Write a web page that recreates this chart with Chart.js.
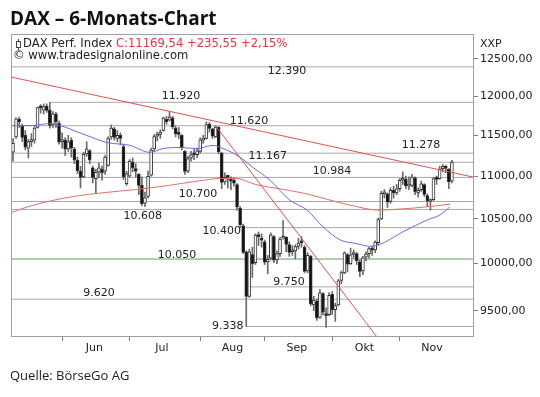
<!DOCTYPE html>
<html lang="de">
<head>
<meta charset="utf-8">
<title>DAX – 6-Monats-Chart</title>
<script src="https://cdn.jsdelivr.net/npm/chart.js@4.4.1/dist/chart.umd.min.js"></script>
<style>
  html, body { margin: 0; padding: 0; background: #fff; }
  #wrap { position: relative; width: 540px; height: 397px; overflow: hidden; }
  #wrap canvas { position: absolute; left: 0; top: 0; }
  .t { position: absolute; white-space: nowrap; }
  #title { left: 10px; top: 8px; font: bold 19px/20px "Open Sans", sans-serif; color: #111; }
  #source { left: 10px; top: 369px; font: 13px/13px "Open Sans", sans-serif; color: #222; }
  .hdr { font: 11.6px/13px "DejaVu Sans", sans-serif; color: #222; }
  #h1 { left: 15px; top: 37px; }
  #h2 { left: 13px; top: 48.5px; }
  #xxp { left: 480px; top: 37px; font-size: 11px; }
  .red { color: #e8333b; }
  .ico { display: inline-block; position: relative; width: 3px; height: 5px; border: 1px solid #444;
         margin: 0 2px 0 1px; vertical-align: -1px; }
  .ico::before, .ico::after { content: ""; position: absolute; left: 1px; width: 1px; height: 2px; background: #444; }
  .ico::before { top: -3px; }
  .ico::after { bottom: -3px; }
</style>
</head>
<body>
<div id="wrap">
  <canvas id="chart" width="540" height="397"></canvas>
  <div class="t" id="title">DAX – 6-Monats-Chart</div>
  <div class="t hdr" id="h1"><span class="ico"></span>DAX Perf. Index <span class="red">C:11169,54 +235,55 +2,15%</span></div>
  <div class="t hdr" id="h2">© www.tradesignalonline.com</div>
  <div class="t hdr" id="xxp">XXP</div>
  <div class="t" id="source">Quelle: BörseGo AG</div>
</div>
<script>
/* ---------------------------------------------------------------------------
 * DAX Tageskerzen 7. Mai – 25. Nov. 2015 (Index 0 = erster Balken),
 * 200-/50-Tage-Linie, Trendlinien und markierte Marken.
 * ------------------------------------------------------------------------- */
const $ = (id) => document.getElementById(id);

// Kerzen: Mai | Jun | Jul | Aug | Sep | Okt | Nov
const barOpen = [
  11290, 11480, 11700, 11620, 11500, 11340, 11420, 11440, 11600, 11860, 11820, 11870, 11820, 11630, 11770, 11650,
  11420, 11440, 11330, 11440, 11330, 11190, 11060, 10990, 11270, 11310, 11100, 10970, 11050, 11080, 11060, 11130, 11480, 11580, 11460, 11500, 11360, 10910,
  11000, 11170, 11090, 11020, 10890, 10680, 10760, 11010, 11330, 11490, 11510, 11560, 11700, 11690, 11720, 11590, 11530, 11500, 11300, 11060, 11220, 11280, 11260,
  11300, 11440, 11460, 11640, 11580, 11480, 11600, 11280, 10930, 11000, 10960, 10950, 10900, 10620, 10420, 10130, 9650, 10100, 10010, 10310, 10280,
  10240, 10020, 10060, 10300, 10040, 10110, 10280, 10290, 10210, 10130, 10140, 10190, 10240, 10180, 9920, 10080, 9560, 9600, 9430, 9680, 9470, 9460,
  9670, 9510, 9560, 9820, 9900, 10100, 10000, 10100, 10110, 10020, 9920, 10070, 10110, 10170, 10150, 10230, 10500, 10790, 10790, 10700, 10830, 10800,
  10850, 10950, 10960, 10880, 10890, 10980, 10800, 10840, 10900, 10770, 10700, 10720, 10970, 10970, 11090, 11110, 11080, 10940,
];
const barHigh = [
  11460, 11720, 11730, 11640, 11560, 11450, 11520, 11610, 11860, 11890, 11900, 11900, 11920, 11800, 11790, 11680,
  11530, 11470, 11500, 11470, 11350, 11230, 11120, 11290, 11420, 11320, 11120, 11080, 11160, 11120, 11250, 11480, 11630, 11600, 11560, 11530, 11390, 11060,
  11200, 11220, 11150, 11030, 10990, 10810, 11060, 11340, 11510, 11540, 11570, 11730, 11740, 11802, 11740, 11620, 11600, 11510, 11310, 11240, 11300, 11330, 11340,
  11470, 11500, 11670, 11660, 11590, 11620, 11610, 11290, 11040, 11010, 10990, 10980, 10910, 10640, 10440, 10140, 10160, 10180, 10330, 10350, 10330,
  10260, 10090, 10340, 10310, 10140, 10290, 10480, 10300, 10240, 10200, 10210, 10280, 10300, 10200, 10120, 10090, 9650, 9620, 9720, 9690, 9530, 9690,
  9700, 9580, 9830, 9920, 10130, 10110, 10170, 10150, 10120, 10040, 10080, 10130, 10180, 10190, 10250, 10510, 10820, 10840, 10800, 10860, 10880, 10900,
  10970, 11050, 11000, 10990, 11020, 10990, 10860, 10940, 10910, 10790, 10730, 10980, 11000, 11120, 11140, 11130, 11090, 11190,
];
const barLow = [
  11180, 11460, 11600, 11420, 11320, 11220, 11360, 11400, 11590, 11780, 11770, 11790, 11590, 11600, 11600, 11390,
  11340, 11250, 11300, 11230, 11150, 11030, 10860, 10980, 11240, 11150, 10920, 10800, 10980, 10950, 11020, 11120, 11450, 11440, 11420, 11380, 10960, 10890,
  10990, 11050, 10990, 10780, 10650, 10640, 10740, 11000, 11300, 11430, 11460, 11550, 11640, 11680, 11580, 11480, 11460, 11320, 11020, 11040, 11180, 11200, 11220,
  11280, 11400, 11450, 11540, 11460, 11470, 11270, 10850, 10900, 10860, 10840, 10880, 10600, 10400, 10110, 9338, 9640, 9850, 9990, 10200, 10180,
  9990, 9890, 10040, 10010, 10000, 10080, 10270, 10130, 10080, 10090, 10050, 10160, 10180, 9900, 9900, 9550, 9500, 9400, 9420, 9460, 9330, 9450,
  9460, 9390, 9550, 9780, 9890, 9910, 9990, 10060, 9990, 9860, 9880, 10030, 10060, 10090, 10120, 10200, 10490, 10740, 10630, 10680, 10740, 10780,
  10820, 10900, 10850, 10840, 10870, 10780, 10750, 10820, 10760, 10640, 10600, 10710, 10900, 10960, 11050, 11040, 10850, 10920,
];
const barClose = [
  11400, 11709, 11673, 11472, 11352, 11420, 11447, 11592, 11853, 11848, 11864, 11815, 11625, 11771, 11673, 11413,
  11436, 11328, 11419, 11340, 11197, 11064, 10985, 11265, 11332, 11196, 10984, 11044, 11100, 11040, 11230, 11460, 11590, 11472, 11500, 11460, 10990, 11030,
  11180, 11099, 11058, 10890, 10676, 10747, 10996, 11316, 11484, 11516, 11539, 11717, 11673, 11735, 11604, 11520, 11512, 11347, 11056, 11211, 11257, 11257, 11308,
  11443, 11456, 11636, 11585, 11490, 11604, 11293, 10924, 10985, 10985, 10940, 10915, 10636, 10432, 10124, 9648, 10128, 9997, 10315, 10298, 10259,
  10016, 10048, 10318, 10038, 10108, 10271, 10303, 10210, 10123, 10131, 10188, 10227, 10229, 9916, 10092, 9570, 9612, 9428, 9688, 9484, 9450, 9660,
  9509, 9553, 9814, 9902, 10119, 9993, 10096, 10118, 10033, 9915, 10064, 10104, 10164, 10147, 10238, 10491, 10795, 10801, 10692, 10831, 10801, 10850,
  10950, 10951, 10887, 10887, 10988, 10815, 10832, 10907, 10782, 10708, 10713, 10971, 10960, 11085, 11119, 11092, 10934, 11170,
];

// Monatsanfang (Balkenindex) und Monatsnamen
const monthStart = [16, 38, 61, 82, 104, 126];
const monthName = ["Jun", "Jul", "Aug", "Sep", "Okt", "Nov"];
const yTicks = [9500, 10000, 10500, 11000, 11500, 12000, 12500];

// 200-Tage-Linie (rot) und 50-Tage-Linie (blau): [Balkenindex, Wert]
const maRedIdx = [-0.7, 5, 12, 20, 30, 40, 50, 60, 68, 73, 79, 85, 95, 105, 112, 119, 126, 134, 142.5];
const maRedVal = [10570, 10640, 10705, 10760, 10805, 10840, 10885, 10940, 10972, 10970, 10900, 10860, 10795, 10700, 10640, 10600, 10612, 10635, 10670];
const maBlueIdx = [-0.7, 6.5, 12, 15.3, 24.1, 30.6, 38.1, 44.6, 48.9, 54.4, 59.9, 65.1, 68.4, 73, 78.2, 83.7, 90.2, 95.8, 101, 106.5, 112, 116.5, 128.3, 134.9, 139.1, 142.3];
const maBlueVal = [11620, 11623, 11648, 11623, 11497, 11410, 11374, 11288, 11335, 11348, 11335, 11374, 11335, 11252, 11104, 10951, 10716, 10601, 10408, 10263, 10220, 10190, 10375, 10487, 10544, 10636];

// Trendlinien: [Balkenindex, Wert]
const trendLong = [[-0.65, 12253], [150.2, 10986]];
const trendSteep = [[66, 11620], [118.6, 9232]];

// Marken (horizontale Linien) und ab welchem Balken sie gezeichnet werden (null = ganzer Chart)
const levelValue = [12390, 11920, 11620, 11278, 11167, 10984, 10700, 10608, 10400, 10050, 9750, 9620, 9338];
const levelFrom = [null, 12, null, null, null, null, null, null, 75, null, 77, null, 76];
const GREEN_LEVEL = 10050;

/* ------------------------------ Layout ------------------------------------ */
const X_MIN = -0.65, X_MAX = 150.2;
const Y_MIN = 9232, Y_MAX = 12841;
// Beschriftung der Marken: Mitte (Balkenindex) und vertikaler Versatz in px
const levelLabelAt = [89.3, 54.7, 76.9, 132.9, 83, 103.9, 60.3, 42.3, 68, 53.4, 89.9, 28, 70];
const levelLabelDy = [4, -6, -5, -8, -6, -6, -7, 7, 4, -4, -5, -6, 0];

const fmtLevel = (v) => String(v).replace(/\B(?=(\d{3})+(?!\d))/g, ".");
const pts = (idx, val) => idx.map((x, k) => ({ x, y: val[k] }));

/* ------------------------------ Datasets ---------------------------------- */
const levelSets = levelValue.map((v, k) => ({
  type: "line",
  data: [{ x: levelFrom[k] ?? X_MIN, y: v }, { x: X_MAX, y: v }],
  borderColor: v === GREEN_LEVEL ? "#5da35d" : "#a8a8a8",
  borderWidth: 1, pointRadius: 0, order: 6,
}));

const idx = barOpen.map((_, i) => i);
const wicks = {
  type: "bar",
  data: idx.map((i) => ({ x: i, y: [barLow[i], barHigh[i]] })),
  backgroundColor: "#6a6a6a", barThickness: 1, grouped: false, order: 5,
};
const bodies = {
  type: "bar",
  data: idx.map((i) => ({ x: i, y: [barOpen[i], barClose[i]] })),
  backgroundColor: idx.map((i) => (barClose[i] >= barOpen[i] ? "#ffffff" : "#111111")),
  borderColor: "#333", borderWidth: 1, borderSkipped: false,
  barThickness: 3, minBarLength: 2, grouped: false, order: 4,
};
const lineStyle = { type: "line", pointRadius: 0, borderWidth: 1, fill: false };
const maRed = { ...lineStyle, data: pts(maRedIdx, maRedVal), borderColor: "#e36d6d", cubicInterpolationMode: "monotone", order: 3 };
const maBlue = { ...lineStyle, data: pts(maBlueIdx, maBlueVal), borderColor: "#6b6be3", cubicInterpolationMode: "monotone", order: 3 };
const tLong = { ...lineStyle, data: trendLong.map(([x, y]) => ({ x, y })), borderColor: "#e65050", order: 2 };
const tSteep = { ...lineStyle, data: trendSteep.map(([x, y]) => ({ x, y })), borderColor: "#e65050", order: 2 };

/* ------------------------------ Plugins ----------------------------------- */
const framePlugin = {
  id: "frame",
  afterDraw(chart) {
    const { ctx, chartArea: a } = chart;
    ctx.save();
    ctx.strokeStyle = "#a0a0a0";
    ctx.lineWidth = 1;
    ctx.strokeRect(a.left + 0.5, a.top + 0.5, a.right - a.left - 1, a.bottom - a.top - 1);
    ctx.restore();
  },
};

const levelLabels = {
  id: "levelLabels",
  afterDatasetsDraw(chart) {
    const { ctx, scales: { x, y } } = chart;
    ctx.save();
    ctx.font = '11px "DejaVu Sans"';
    ctx.fillStyle = "#222";
    ctx.textAlign = "center";
    ctx.textBaseline = "middle";
    levelValue.forEach((v, k) => {
      ctx.fillText(fmtLevel(v), x.getPixelForValue(levelLabelAt[k]), y.getPixelForValue(v) + levelLabelDy[k]);
    });
    ctx.restore();
  },
};

/* ------------------------------ Chart ------------------------------------- */
Chart.defaults.font.family = '"DejaVu Sans", sans-serif';

new Chart($("chart"), {
  type: "bar",
  data: { datasets: [...levelSets, wicks, bodies, maRed, maBlue, tLong, tSteep] },
  options: {
    responsive: false,
    animation: false,
    layout: { padding: { left: 11, top: 34, right: 0, bottom: 0 } },
    plugins: { legend: { display: false }, tooltip: { enabled: false } },
    scales: {
      x: {
        type: "linear", min: X_MIN, max: X_MAX, bounds: "data", offset: false,
        afterBuildTicks: (s) => {
          s.ticks = [...monthStart, ...monthStart.map((m) => m + 10.5)].sort((a, b) => a - b).map((value) => ({ value }));
        },
        afterFit: (s) => { s.height = 60; },
        grid: {
          drawOnChartArea: false, drawTicks: true, tickLength: 4, offset: false,
          color: (c) => (c.tick && monthStart.includes(c.tick.value) ? "#808080" : "rgba(0,0,0,0)"),
        },
        border: { display: false },
        ticks: {
          autoSkip: false, maxRotation: 0, minRotation: 0, padding: 1, color: "#222", font: { size: 11 },
          callback: (v) => { const k = monthStart.indexOf(v - 10.5); return k >= 0 ? monthName[k] : ""; },
        },
      },
      y: {
        type: "logarithmic", position: "right", min: Y_MIN, max: Y_MAX, bounds: "data",
        afterBuildTicks: (s) => { s.ticks = yTicks.map((value) => ({ value })); },
        afterFit: (s) => { s.width = 66; },
        grid: { drawOnChartArea: false, tickLength: 4, color: "#808080" },
        border: { display: false },
        ticks: { padding: 2, color: "#222", font: { size: 11 }, callback: (v) => Number(v).toFixed(2).replace(".", ",") },
      },
    },
  },
  plugins: [framePlugin, levelLabels],
});
</script>
</body>
</html>
